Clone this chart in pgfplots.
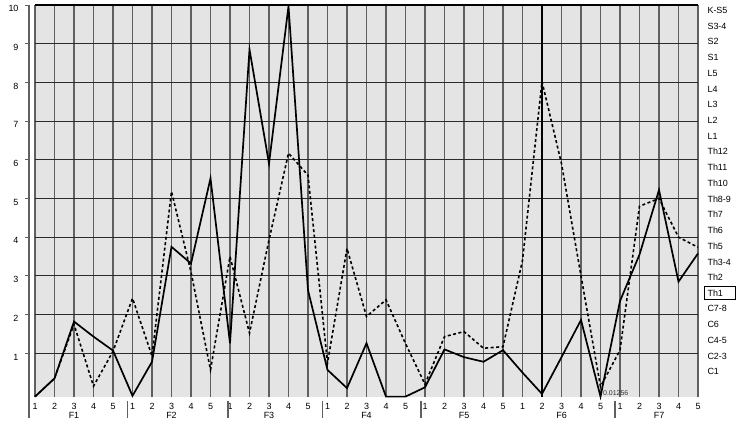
\documentclass[border=0pt]{standalone}
\usepackage{fontspec}
\setmainfont{Liberation Sans}
\usepackage{pgfplots}
\pgfplotsset{compat=1.18}
\definecolor{bg}{HTML}{E4E4E4}
\definecolor{vgrid}{HTML}{606060}
\definecolor{hgrid}{HTML}{2A2A2A}
\begin{document}
\begin{tikzpicture}
\begin{axis}[
  scale only axis, width=663bp, height=392bp,
  xmin=0, xmax=34, ymin=-0.13, ymax=10,
  axis background/.style={fill=bg},
  axis line style={draw=none},
  tick style={draw=none},
  xtick={0,...,34},
  xticklabels={1,2,3,4,5,1,2,3,4,5,1,2,3,4,5,1,2,3,4,5,1,2,3,4,5,1,2,3,4,5,1,2,3,4,5},
  ytick={1,...,10},
  xmajorgrids=true, ymajorgrids=true,
  x grid style={vgrid, line width=1.3bp},
  y grid style={hgrid, line width=1.1bp},
  ticklabel style={font=\fontsize{9}{10}\selectfont},
  xticklabel style={yshift=-3bp},
  yticklabel style={xshift=-13bp, yshift=-3.7bp},
  /pgf/number format/assume math mode=true,
  clip=false,
]
\draw[black, line width=2.4bp] (axis cs:26,-0.13) -- (axis cs:26,10);
\addplot[black, line width=1.6bp, dash pattern=on 3bp off 2.5bp] coordinates {
(0,-0.12) (1,0.35) (2,1.75) (3,0.15) (4,1.05)
(5,2.42) (6,0.93) (7,5.18) (8,3.1) (9,0.57)
(10,3.5) (11,1.52) (12,3.93) (13,6.17) (14,5.6)
(15,0.75) (16,3.71) (17,1.95) (18,2.38) (19,1.25)
(20,0.2) (21,1.43) (22,1.56) (23,1.13) (24,1.17)
(25,3.4) (26,8.02) (27,5.9) (28,3.0) (29,0.14)
(30,1.08) (31,4.8) (32,5.0) (33,4.0) (34,3.74)
};
\addplot[black, line width=1.7bp] coordinates {
(0,-0.12) (1,0.35) (2,1.82) (3,1.43) (4,1.07)
(5,-0.1) (6,0.78) (7,3.75) (8,3.32) (9,5.52)
(10,1.26) (11,8.85) (12,5.9) (13,9.97) (14,2.63)
(15,0.57) (16,0.1) (17,1.26) (18,-0.12) (19,-0.12)
(20,0.12) (21,1.1) (22,0.9) (23,0.78) (24,1.08)
(25,0.5) (26,-0.05) (27,0.9) (28,1.86) (29,-0.12)
(30,2.35) (31,3.55) (32,5.22) (33,2.85) (34,3.58)
};
% left axis line with small ticks
\draw[vgrid, line width=1.4bp] (axis cs:-0.3,10) -- (axis cs:-0.3,-0.13) -- ([yshift=-21bp]axis cs:-0.3,-0.13);
\draw[vgrid, line width=0.8bp]
  ([xshift=-4bp]axis cs:-0.3,1) -- (axis cs:-0.3,1)
  ([xshift=-4bp]axis cs:-0.3,2) -- (axis cs:-0.3,2)
  ([xshift=-4bp]axis cs:-0.3,3) -- (axis cs:-0.3,3)
  ([xshift=-4bp]axis cs:-0.3,4) -- (axis cs:-0.3,4)
  ([xshift=-4bp]axis cs:-0.3,5) -- (axis cs:-0.3,5)
  ([xshift=-4bp]axis cs:-0.3,6) -- (axis cs:-0.3,6)
  ([xshift=-4bp]axis cs:-0.3,7) -- (axis cs:-0.3,7)
  ([xshift=-4bp]axis cs:-0.3,8) -- (axis cs:-0.3,8)
  ([xshift=-4bp]axis cs:-0.3,9) -- (axis cs:-0.3,9)
  ([xshift=-4bp]axis cs:-0.3,10) -- (axis cs:-0.3,10);
\draw[black, line width=1.2bp] (axis cs:0,10) -- (axis cs:34,10);
% group separators
\draw[vgrid, line width=1.4bp]
  ([yshift=-4bp]axis cs:4.75,-0.13) -- ([yshift=-21bp]axis cs:4.75,-0.13)
  ([yshift=-4bp]axis cs:9.9,-0.13) -- ([yshift=-21bp]axis cs:9.9,-0.13)
  ([yshift=-4bp]axis cs:14.75,-0.13) -- ([yshift=-21bp]axis cs:14.75,-0.13)
  ([yshift=-4bp]axis cs:19.8,-0.13) -- ([yshift=-21bp]axis cs:19.8,-0.13)
  ([yshift=-4bp]axis cs:29.75,-0.13) -- ([yshift=-21bp]axis cs:29.75,-0.13);
% group labels
\node[anchor=base, font=\fontsize{9}{10}\selectfont, yshift=-21.7bp] at (axis cs:2,-0.13) {F1};
\node[anchor=base, font=\fontsize{9}{10}\selectfont, yshift=-21.7bp] at (axis cs:7,-0.13) {F2};
\node[anchor=base, font=\fontsize{9}{10}\selectfont, yshift=-21.7bp] at (axis cs:12,-0.13) {F3};
\node[anchor=base, font=\fontsize{9}{10}\selectfont, yshift=-21.7bp] at (axis cs:17,-0.13) {F4};
\node[anchor=base, font=\fontsize{9}{10}\selectfont, yshift=-21.7bp] at (axis cs:22,-0.13) {F5};
\node[anchor=base, font=\fontsize{9}{10}\selectfont, yshift=-21.7bp] at (axis cs:27,-0.13) {F6};
\node[anchor=base, font=\fontsize{9}{10}\selectfont, yshift=-21.7bp] at (axis cs:32,-0.13) {F7};
% small annotation
\node[anchor=base west, font=\fontsize{7}{8}\selectfont, inner sep=0.5bp, yshift=1.5bp, text=black!80] at (axis cs:29.1,-0.13) {0.01256};
% box around Th1
\node[draw=black, line width=1.1bp, minimum width=31bp, minimum height=13bp, anchor=west, inner sep=0pt, xshift=6bp] at (axis cs:34,2.55) {};
\end{axis}
\begin{axis}[
  scale only axis, width=663bp, height=392bp,
  xmin=0, xmax=34, ymin=-0.13, ymax=10,
  hide x axis,
  axis line style={draw=none},
  tick style={draw=none},
  yticklabel pos=right,
  ytick={9.86,9.45,9.05,8.64,8.23,7.83,7.42,7.02,6.61,6.21,5.80,5.39,4.99,4.58,4.18,3.77,3.36,2.96,2.55,2.15,1.74,1.33,0.93,0.52},
  yticklabels={K-S5,S3-4,S2,S1,L5,L4,L3,L2,L1,Th12,Th11,Th10,Th8-9,Th7,Th6,Th5,Th3-4,Th2,Th1,C7-8,C6,C4-5,C2-3,C1},
  yticklabel style={font=\fontsize{9}{10}\selectfont, anchor=west, xshift=6bp},
]
\end{axis}
\pgfresetboundingbox
\path[use as bounding box] ([shift={(-35bp,-35bp)}]current axis.south west) rectangle ([shift={(52bp,5bp)}]current axis.north east);
\end{tikzpicture}
\end{document}
